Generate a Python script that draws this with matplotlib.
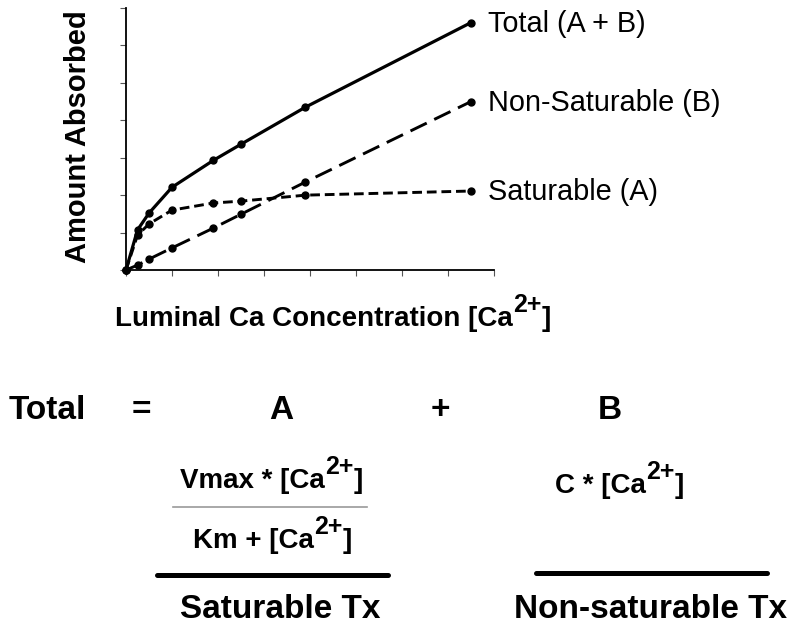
import matplotlib
matplotlib.use('Agg')
import matplotlib.pyplot as plt
from matplotlib.lines import Line2D

plt.rcParams['font.family'] = ['Liberation Sans', 'DejaVu Sans']
plt.rcParams['lines.scale_dashes'] = False

# Values (arbitrary units).
conc = [0, 0.25, 0.5, 1.0, 1.9, 2.5, 3.9, 7.5]
saturable = [0, 0.93, 1.23, 1.6, 1.79, 1.84, 2.0, 2.11]
non_saturable = [0, 0.13, 0.29, 0.59, 1.12, 1.49, 2.35, 4.5]
total = [0, 1.07, 1.52, 2.21, 2.93, 3.36, 4.35, 6.61]
curve_labels = ['Total (A + B)', 'Non-Saturable (B)', 'Saturable (A)']

W, H = 800, 624
fig = plt.figure(figsize=(W / 100, H / 100), dpi=100)


def px(x, y):
    # pixel position (from top left) -> figure fraction
    return x / W, 1 - y / H


ax = fig.add_axes([126 / W, 1 - 270 / H, 368 / W, 262 / H])

ax.plot(conc, total, color='black', lw=2.3, marker='o', ms=5, clip_on=False)
ax.plot(conc, non_saturable, color='black', lw=2.1, dashes=(13, 6),
        marker='o', ms=5, clip_on=False)
ax.plot(conc, saturable, color='black', lw=2.1, dashes=(7, 3.5),
        marker='o', ms=5, clip_on=False)

ax.set_xlim(0, 8)
ax.set_ylim(0, 7)
ax.set_xticks(range(0, 9))
ax.set_yticks(range(0, 8))
ax.tick_params(labelbottom=False, labelleft=False, direction='out',
               length=4, width=0.8, color='#555555')
for side in ['top', 'right']:
    ax.spines[side].set_visible(False)
for side in ['left', 'bottom']:
    ax.spines[side].set_linewidth(1.3)

# Curve labels next to the last point of each series.
for series, label in zip([total, non_saturable, saturable], curve_labels):
    ax.annotate(label, xy=(conc[-1], series[-1]), xytext=(12, -6.5),
                textcoords='offset points', ha='left', va='baseline',
                fontsize=20.8, annotation_clip=False)

fig.text(*px(78, 137), 'Amount Absorbed', rotation=90, ha='center',
         va='center', fontsize=21, fontweight='bold')


def sup_text(x, y, base, sup, tail, size, rise, shrink=0.9):
    t1 = fig.text(*px(x, y), base, ha='left', va='baseline',
                  fontsize=size, fontweight='bold')
    t2 = ax.annotate(sup, xy=(1, 0), xycoords=t1, xytext=(0, rise),
                     textcoords='offset points', ha='left', va='bottom',
                     fontsize=size * shrink, fontweight='bold')
    ax.annotate(tail, xy=(1, 0), xycoords=t1,
                xytext=(size * shrink * 1.14, 0),
                textcoords='offset points', ha='left', va='bottom',
                fontsize=size, fontweight='bold')
    return t2


sup_text(115, 326, 'Luminal Ca Concentration [Ca', '2+', ']', 20, 11)

# Equation block below the chart.
big = dict(fontsize=24, fontweight='bold', va='baseline')
fig.text(*px(9, 419), 'Total', ha='left', **big)
fig.text(*px(141, 419), '=', ha='center', **big)
fig.text(*px(281, 419), 'A', ha='center', **big)
fig.text(*px(440, 419), '+', ha='center', **big)
fig.text(*px(610, 419), 'B', ha='center', **big)

sup_text(180, 488, 'Vmax * [Ca', '2+', ']', 20, 11)
sup_text(193, 548, 'Km + [Ca', '2+', ']', 20, 11)
sup_text(555, 493, 'C * [Ca', '2+', ']', 20, 11)

fig.add_artist(Line2D([173 / W, 367 / W], [1 - 507 / H] * 2,
                      color='#9a9a9a', lw=1.2))
fig.add_artist(Line2D([157 / W, 388 / W], [1 - 575 / H] * 2,
                      color='black', lw=3.6, solid_capstyle='round'))
fig.add_artist(Line2D([536 / W, 767 / W], [1 - 573 / H] * 2,
                      color='black', lw=3.6, solid_capstyle='round'))

fig.text(*px(280, 618), 'Saturable Tx', ha='center', **big)
fig.text(*px(651, 618), 'Non-saturable Tx', ha='center', **big)

fig.savefig('out.png', dpi=100)
